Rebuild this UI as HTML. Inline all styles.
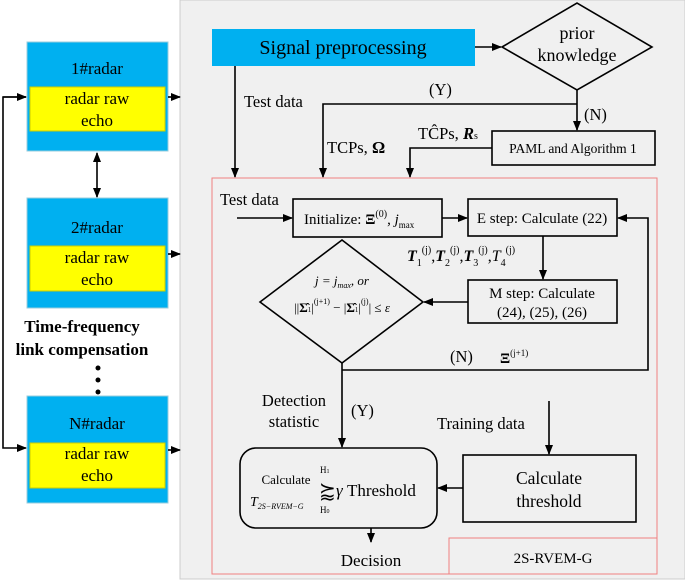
<!DOCTYPE html>
<html><head><meta charset="utf-8"><style>
html,body{margin:0;padding:0;background:#fff;}
svg{display:block;font-family:"Liberation Serif",serif;}
</style></head><body>
<svg width="685" height="582" viewBox="0 0 685 582" xmlns="http://www.w3.org/2000/svg">
<defs>
<marker id="a" markerWidth="10" markerHeight="10" refX="9" refY="5" orient="auto" markerUnits="userSpaceOnUse">
<path d="M0,1 L10,5 L0,9 Z" fill="#000"/></marker>
<marker id="s" markerWidth="10" markerHeight="10" refX="1" refY="5" orient="auto" markerUnits="userSpaceOnUse">
<path d="M10,1 L0,5 L10,9 Z" fill="#000"/></marker>
</defs>
<rect x="180" y="0" width="505" height="579" fill="#f0f0f0" stroke="#ccc"/>
<!-- radars -->
<g font-size="17" text-anchor="middle">
<rect x="27" y="42" width="141" height="109" fill="#00b0f0" stroke="#9cd"/>
<rect x="30" y="87" width="135" height="44" fill="#ffff00" stroke="#cc0"/>
<text x="97" y="74">1#radar</text><text x="97" y="104">radar raw</text><text x="97" y="126">echo</text>
<rect x="27" y="198" width="141" height="110" fill="#00b0f0" stroke="#9cd"/>
<rect x="30" y="246" width="135" height="45" fill="#ffff00" stroke="#cc0"/>
<text x="97" y="233">2#radar</text><text x="97" y="263">radar raw</text><text x="97" y="285">echo</text>
<rect x="27" y="396" width="141" height="107" fill="#00b0f0" stroke="#9cd"/>
<rect x="30" y="443" width="135" height="45" fill="#ffff00" stroke="#cc0"/>
<text x="97" y="429">N#radar</text><text x="97" y="459">radar raw</text><text x="97" y="481">echo</text>
<text x="82" y="332" font-weight="bold">Time-frequency</text>
<text x="82" y="355" font-weight="bold">link compensation</text>
</g>
<circle cx="98" cy="368" r="2.5"/><circle cx="98" cy="380" r="2.5"/><circle cx="98" cy="392" r="2.5"/>
<g stroke="#000" stroke-width="1.6" fill="none">
<path d="M26,97 H3 V448 H26" marker-end="url(#a)"/>
<path d="M3,97 H26" marker-end="url(#a)"/>
<path d="M97,153 V197" marker-start="url(#s)" marker-end="url(#a)"/>
<path d="M168,97 H180" marker-end="url(#a)"/>
<path d="M168,254 H180" marker-end="url(#a)"/>
<path d="M168,450 H180" marker-end="url(#a)"/>
</g>
<!-- top -->
<rect x="212" y="29" width="263" height="37" fill="#00b0f0"/>
<text x="343" y="54" font-size="20" text-anchor="middle">Signal preprocessing</text>
<polygon points="502,47 577,3 652,47 577,90" fill="none" stroke="#000" stroke-width="1.6"/>
<text x="577" y="39" font-size="18" text-anchor="middle">prior</text>
<text x="577" y="61" font-size="18" text-anchor="middle">knowledge</text>
<rect x="492" y="131" width="163" height="34" fill="none" stroke="#000" stroke-width="1.6"/>
<text x="573" y="153" font-size="13.5" text-anchor="middle">PAML and Algorithm 1</text>
<g stroke="#000" stroke-width="1.6" fill="none">
<path d="M475,47 H501" marker-end="url(#a)"/>
<path d="M577,90 V130" marker-end="url(#a)"/>
<path d="M577,104 H323 V177" marker-end="url(#a)"/>
<path d="M235,66 V177" marker-end="url(#a)"/>
<path d="M492,148 H410 V177" marker-end="url(#a)"/>
</g>
<g font-size="16.5">
<text x="244" y="107">Test data</text>
<text x="429" y="95">(Y)</text>
<text x="584" y="120">(N)</text>
<text x="327" y="153">TCPs, <tspan font-weight="bold">Ω</tspan></text>
<text x="418" y="139">TĈPs, <tspan font-weight="bold" font-style="italic">R</tspan><tspan font-size="10">s</tspan></text>
</g>
<!-- red box -->
<rect x="212" y="178" width="445" height="396" fill="none" stroke="#f08080"/>
<rect x="449" y="538" width="208" height="36" fill="none" stroke="#f08080"/>
<text x="553" y="563" font-size="15" text-anchor="middle">2S-RVEM-G</text>
<g stroke="#000" stroke-width="1.6" fill="none">
<rect x="293" y="199" width="149" height="38"/>
<rect x="468" y="199" width="149" height="37"/>
<rect x="468" y="280" width="149" height="43"/>
<polygon points="260,302 342,240 423,302 342,363"/>
<rect x="240" y="448" width="197" height="80" rx="16"/>
<rect x="463" y="455" width="173" height="67"/>
<path d="M237,218 H292" marker-end="url(#a)"/>
<path d="M442,218 H467" marker-end="url(#a)"/>
<path d="M543,236 V279" marker-end="url(#a)"/>
<path d="M468,302 H424" marker-end="url(#a)"/>
<path d="M342,363 V447" marker-end="url(#a)"/>
<path d="M342,370 H648 V218 H618" marker-end="url(#a)"/>
<path d="M549,401 V454" marker-end="url(#a)"/>
<path d="M463,488 H438" marker-end="url(#a)"/>
<path d="M371,528 V542" marker-end="url(#a)"/>
</g>
<g font-size="15">
<text x="220" y="205" font-size="16.5">Test data</text>
<text x="304" y="224">Initialize: <tspan font-weight="bold">Ξ</tspan><tspan font-size="10" dy="-7">(0)</tspan><tspan dy="7">, </tspan><tspan font-style="italic">j</tspan><tspan font-size="9" dy="4">max</tspan></text>
<text x="542" y="223" text-anchor="middle">E step: Calculate (22)</text>
<text x="542" y="298" text-anchor="middle">M step: Calculate</text>
<text x="542" y="317" text-anchor="middle">(24), (25), (26)</text>
<text x="407" y="261" font-size="16"><tspan font-weight="bold" font-style="italic">T</tspan><tspan font-size="10" dy="5">1</tspan><tspan font-size="10" dy="-13">(j)</tspan><tspan dy="8">,</tspan><tspan font-weight="bold" font-style="italic">T</tspan><tspan font-size="10" dy="5">2</tspan><tspan font-size="10" dy="-13">(j)</tspan><tspan dy="8">,</tspan><tspan font-weight="bold" font-style="italic">T</tspan><tspan font-size="10" dy="5">3</tspan><tspan font-size="10" dy="-13">(j)</tspan><tspan dy="8">,</tspan><tspan font-style="italic">T</tspan><tspan font-size="10" dy="5">4</tspan><tspan font-size="10" dy="-13">(j)</tspan></text>
<text x="342" y="285" font-size="13" text-anchor="middle" font-style="italic">j = j<tspan font-size="8" dy="3">max</tspan><tspan dy="-3">, or</tspan></text>
<text x="342" y="312" font-size="13" text-anchor="middle">||<tspan font-weight="bold">Σ̂</tspan><tspan font-size="7">1</tspan>|<tspan font-size="8" dy="-8">(j+1)</tspan><tspan dy="8"> − |</tspan><tspan font-weight="bold">Σ̂</tspan><tspan font-size="7">1</tspan>|<tspan font-size="8" dy="-8">(j)</tspan><tspan dy="8">| ≤ </tspan><tspan font-style="italic">ε</tspan></text>
<text x="450" y="362" font-size="16.5">(N)</text>
<text x="500" y="363" font-weight="bold">Ξ<tspan font-size="9" font-weight="normal" dy="-7">(j+1)</tspan></text>
<text x="294" y="406" font-size="16.5" text-anchor="middle">Detection</text>
<text x="294" y="427" font-size="16.5" text-anchor="middle">statistic</text>
<text x="351" y="416" font-size="16.5">(Y)</text>
<text x="437" y="429" font-size="16.5">Training data</text>
<text x="549" y="484" font-size="17.5" text-anchor="middle">Calculate</text>
<text x="549" y="507" font-size="17.5" text-anchor="middle">threshold</text>
<text x="286" y="484" font-size="13" text-anchor="middle">Calculate</text>
<text x="250" y="506" font-size="14" font-style="italic">T<tspan font-size="8" dy="3">2S−RVEM−G</tspan></text>
<text x="320" y="473" font-size="9">H<tspan font-size="6">1</tspan></text>
<text x="319" y="497" font-size="20">⪸</text>
<text x="320" y="513" font-size="9">H<tspan font-size="6">0</tspan></text>
<text x="336" y="496" font-size="17"><tspan font-style="italic">γ</tspan> Threshold</text>
<text x="371" y="566" font-size="17" text-anchor="middle">Decision</text>
</g>
</svg>
</body></html>
